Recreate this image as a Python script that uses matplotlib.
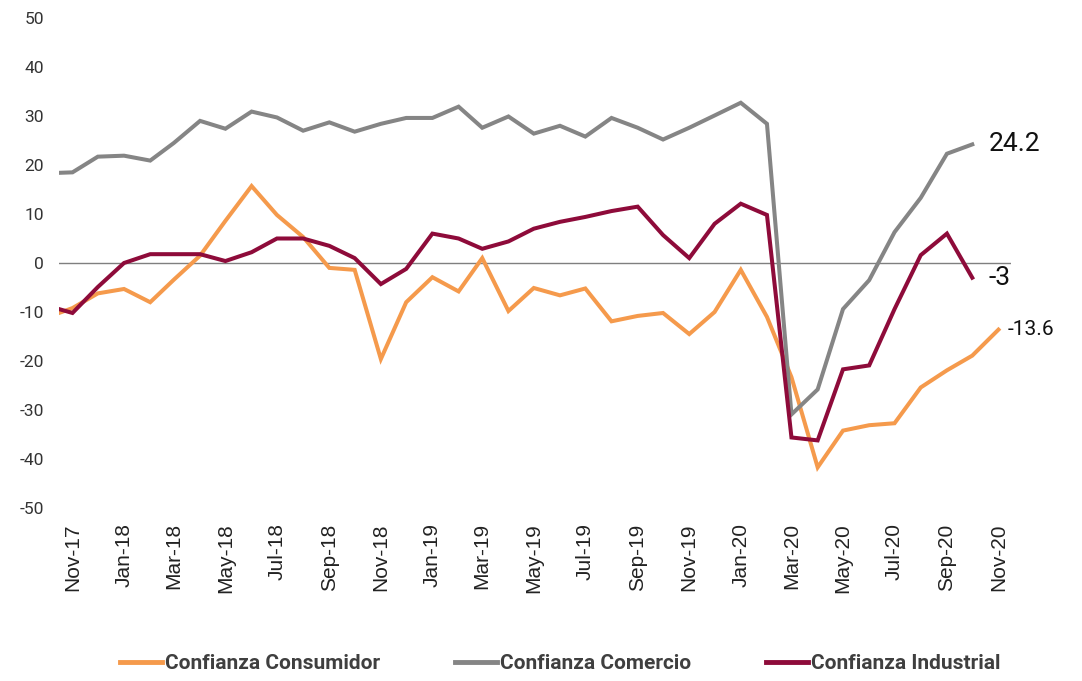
import matplotlib
matplotlib.use("Agg")
import matplotlib.pyplot as plt
import numpy as np
import pandas as pd

# monthly data, first entry is a partial (mid-Oct-17) point
dates = pd.to_datetime(["2017-10-16"]).append(pd.date_range("2017-11-01", "2020-11-01", freq="MS"))

consumidor = [-10.2, -9.2, -6.2, -5.3, -8.0, -3.4, 1.5, 8.6, 15.7, 9.8, 5.3, -1.0, -1.4,
              -19.6, -8.0, -2.9, -5.8, 1.0, -9.8, -5.1, -6.6, -5.2, -11.9, -10.8, -10.2,
              -14.5, -10.0, -1.4, -11.0, -23.3, -41.7, -34.2, -33.1, -32.7, -25.4, -21.9,
              -18.9, -13.6]
comercio = [18.4, 18.5, 21.7, 21.9, 20.9, 24.5, 29.0, 27.4, 30.9, 29.7, 27.0, 28.7, 26.8,
            28.4, 29.6, 29.6, 31.9, 27.6, 29.9, 26.4, 28.0, 25.8, 29.6, 27.6, 25.2,
            27.6, 30.1, 32.7, 28.4, -30.9, -25.8, -9.4, -3.5, 6.3, 13.3, 22.3,
            24.2, np.nan]
industrial = [-9.4, -10.2, -4.9, 0.0, 1.8, 1.8, 1.8, 0.4, 2.2, 5.0, 5.0, 3.5, 1.0,
              -4.3, -1.2, 6.0, 5.0, 2.9, 4.4, 7.0, 8.4, 9.4, 10.6, 11.5, 5.7,
              1.0, 8.0, 12.1, 9.8, -35.6, -36.2, -21.7, -20.9, -9.4, 1.6, 6.0,
              -3.0, np.nan]

series = [("Confianza Consumidor", consumidor, "#F59A4C"),
          ("Confianza Comercio", comercio, "#858585"),
          ("Confianza Industrial", industrial, "#8E0B3A")]

tick_dates = pd.date_range("2017-11-01", "2020-11-01", freq="2MS")
tick_labels = [d.strftime("%b-%y") for d in tick_dates]
y_ticks = list(range(-50, 51, 10))

narrow = ["Roboto", "DejaVu Sans"]

fig = plt.figure(figsize=(10.82, 6.81), dpi=100)
ax = fig.add_axes([0.0545, 0.254, 0.88, 0.7196])

for name, vals, col in series:
    ax.plot(dates, vals, color=col, lw=2.9, label=name, solid_joinstyle="miter")

ax.axhline(0, color="#7f7f7f", lw=1.0, zorder=0)

ax.set_xlim(pd.Timestamp("2017-10-16"), pd.Timestamp("2020-11-16"))
ax.set_ylim(-50, 50)
ax.set_yticks(y_ticks)
ax.set_yticklabels([str(v) for v in y_ticks], family=narrow, fontsize=12.5, color="#333333")
ax.set_xticks(tick_dates)
ax.set_xticklabels(tick_labels, rotation=90, family=["Liberation Sans", "DejaVu Sans"],
                   fontsize=15, color="#222222")
ax.tick_params(axis="both", length=0)
ax.tick_params(axis="y", pad=11)
ax.tick_params(axis="x", pad=11)
for s in ax.spines.values():
    s.set_visible(False)

# end-value labels
for vals, dx, size in [(comercio, 16, 19), (industrial, 16, 19), (consumidor, 9, 15)]:
    arr = np.array(vals, dtype=float)
    k = np.where(~np.isnan(arr))[0][-1]
    ax.annotate(f"{arr[k]:g}", (dates[k], arr[k]), xytext=(dx, 0), textcoords="offset pixels",
                va="center", ha="left", fontsize=size, family=narrow, color="#111111",
                annotation_clip=False)

leg = fig.legend(loc="center", bbox_to_anchor=(0.518, 0.026), ncol=3, frameon=False,
                 handlelength=2.0, handletextpad=0.15, columnspacing=3.6,
                 prop={"family": narrow, "size": 15, "weight": "bold"})
for line in leg.get_lines():
    line.set_linewidth(3.5)
for t in leg.get_texts():
    t.set_color("#3f3f3f")

fig.savefig("out.png", dpi=100)
